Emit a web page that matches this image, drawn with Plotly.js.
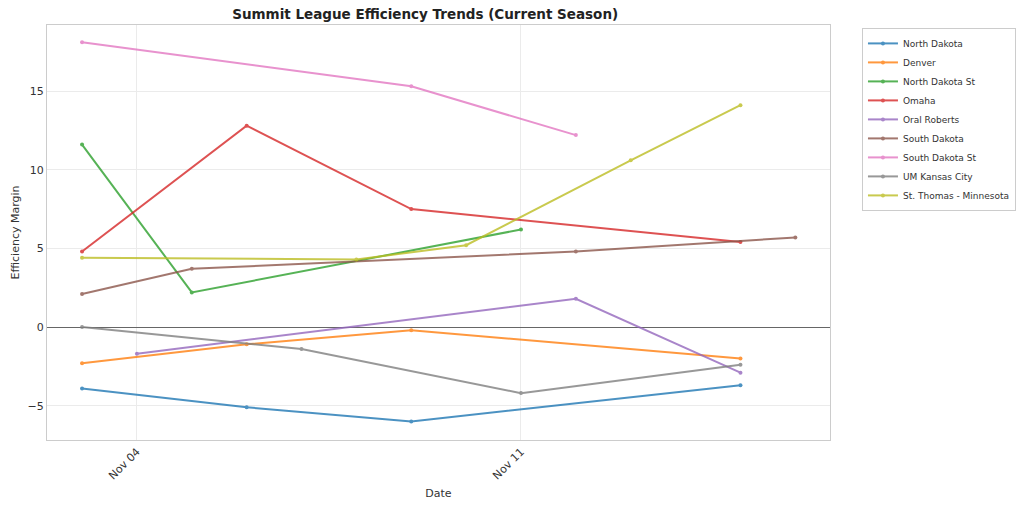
<!DOCTYPE html>
<html>
<head>
<meta charset="utf-8">
<script src="https://cdn.plot.ly/plotly-3.0.1.min.js"></script>
<style>html,body{margin:0;padding:0;background:#fff;}#chart{width:1024px;height:507px;}</style>
</head>
<body>
<div id="chart"></div>
<script>
const teams = ["North Dakota","Denver","North Dakota St","Omaha","Oral Roberts","South Dakota","South Dakota St","UM Kansas City","St. Thomas - Minnesota"];
const colors = ["#1f77b4","#ff7f0e","#2ca02c","#d62728","#9467bd","#8c564b","#e377c2","#7f7f7f","#bcbd22"];

const northDakotaDates = ["2024-11-03","2024-11-06","2024-11-09","2024-11-15"];
const northDakotaVals = [-3.9,-5.1,-6.0,-3.7];
const denverDates = ["2024-11-03","2024-11-06","2024-11-09","2024-11-15"];
const denverVals = [-2.3,-1.1,-0.2,-2.0];
const ndsuDates = ["2024-11-03","2024-11-05","2024-11-11"];
const ndsuVals = [11.6,2.2,6.2];
const omahaDates = ["2024-11-03","2024-11-06","2024-11-09","2024-11-15"];
const omahaVals = [4.8,12.8,7.5,5.4];
const oralRobertsDates = ["2024-11-04","2024-11-12","2024-11-15"];
const oralRobertsVals = [-1.7,1.8,-2.9];
const southDakotaDates = ["2024-11-03","2024-11-05","2024-11-12","2024-11-16"];
const southDakotaVals = [2.1,3.7,4.8,5.7];
const sdsuDates = ["2024-11-03","2024-11-09","2024-11-12"];
const sdsuVals = [18.1,15.3,12.2];
const umkcDates = ["2024-11-03","2024-11-07","2024-11-11","2024-11-15"];
const umkcVals = [0.0,-1.4,-4.2,-2.4];
const stThomasDates = ["2024-11-03","2024-11-08","2024-11-10","2024-11-13","2024-11-15"];
const stThomasVals = [4.4,4.3,5.2,10.6,14.1];

const seriesDates = [northDakotaDates,denverDates,ndsuDates,omahaDates,oralRobertsDates,southDakotaDates,sdsuDates,umkcDates,stThomasDates];
const seriesVals = [northDakotaVals,denverVals,ndsuVals,omahaVals,oralRobertsVals,southDakotaVals,sdsuVals,umkcVals,stThomasVals];

const font = "DejaVu Sans, sans-serif";
const traces = teams.map((t,i)=>({
  type:"scatter", mode:"lines+markers", name:t,
  x:seriesDates[i], y:seriesVals[i],
  line:{color:colors[i], width:2},
  marker:{color:colors[i], size:4},
  opacity:0.8
}));

const layout = {
  width:1024, height:507,
  margin:{l:47, r:194, t:25, b:67, autoexpand:false},
  paper_bgcolor:"#fff", plot_bgcolor:"#fff",
  font:{family:font, color:"#333", size:11},
  title:{text:"<b>Summit League Efficiency Trends (Current Season)</b>", font:{family:font, size:13.5, color:"#222"}, x:0.483, xref:"paper", xanchor:"center", y:0.972, yanchor:"middle"},
  xaxis:{
    type:"date", range:["2024-11-02 08:40","2024-11-16 15:10"],
    tick0:"2024-11-04", dtick:7*86400000, tickformat:"%b %d", tickangle:-45,
    showgrid:true, gridcolor:"#ebebeb", showline:true, mirror:true, linecolor:"#cccccc", linewidth:1,
    ticks:"", zeroline:false, automargin:false,
    title:{text:"Date", font:{family:font, size:11, color:"#333"}, standoff:8},
    tickfont:{family:font, size:11, color:"#333"}
  },
  yaxis:{
    range:[-7.18,19.2], tickvals:[-5,0,5,10,15], ticktext:["\u22125","0","5","10","15"],
    showgrid:true, gridcolor:"#ebebeb", showline:true, mirror:true, linecolor:"#cccccc", linewidth:1,
    zeroline:true, zerolinecolor:"#666666", zerolinewidth:1, ticks:"", automargin:false,
    title:{text:"Efficiency Margin", font:{family:font, size:11, color:"#333"}, standoff:5},
    tickfont:{family:font, size:11, color:"#333"}
  },
  legend:{x:1.2375, xanchor:"right", y:0.993, yanchor:"top", bgcolor:"#fff", bordercolor:"#cccccc", borderwidth:1, font:{family:font, size:9, color:"#333"}, tracegroupgap:0, itemwidth:30},
  showlegend:true
};
Plotly.newPlot("chart", traces, layout, {displayModeBar:false, staticPlot:true});
</script>
</body>
</html>
